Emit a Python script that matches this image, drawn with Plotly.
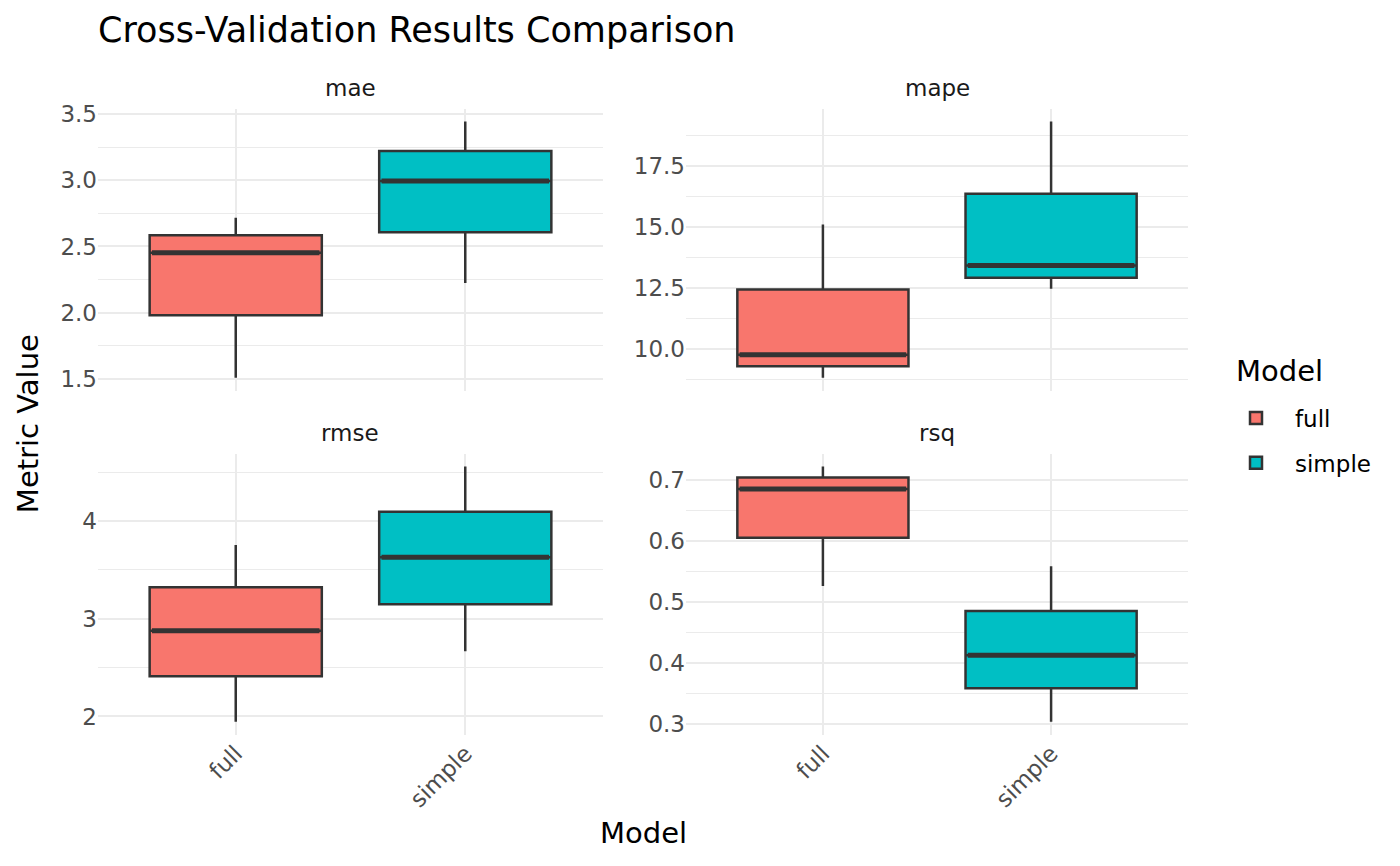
import plotly.graph_objects as go

# ---------------- data ----------------
metrics = ["mae", "mape", "rmse", "rsq"]
models = ["full", "simple"]

full_lower = [1.51, 8.81, 1.946, 0.526]
full_q1 = [1.982, 9.28, 2.411, 0.605]
full_median = [2.452, 9.75, 2.877, 0.685]
full_q3 = [2.585, 12.44, 3.322, 0.704]
full_upper = [2.717, 15.115, 3.754, 0.722]

simple_lower = [2.225, 12.47, 2.668, 0.303]
simple_q1 = [2.607, 12.92, 3.147, 0.358]
simple_median = [2.995, 13.42, 3.629, 0.412]
simple_q3 = [3.22, 16.37, 4.095, 0.485]
simple_upper = [3.442, 19.34, 4.557, 0.5585]

stats = {
    "full": (full_lower, full_q1, full_median, full_q3, full_upper),
    "simple": (simple_lower, simple_q1, simple_median, simple_q3, simple_upper),
}

# ---------------- styling ----------------
W, H = 1400, 866
FONT = "DejaVu Sans"
colors = {"full": "#F8766D", "simple": "#00BFC4"}
EDGE = "#333333"
GRID = "#EBEBEB"
TICK_COL = "#4D4D4D"

major_dtick = [0.5, 2.5, 1.0, 0.1]
tick_fmt = [".1f", ".1f", "d", ".1f"]

# panel pixel boxes (left, right, top, bottom)
px_boxes = [
    (98, 603, 102, 387),
    (686, 1188, 102, 387),
    (98, 603, 451, 735),
    (686, 1188, 451, 735),
]

BOX_W = 0.75

fig = go.Figure()

for i, metric in enumerate(metrics):
    sfx = "" if i == 0 else str(i + 1)
    xa, ya = "x" + sfx, "y" + sfx
    for j, model in enumerate(models):
        lo, q1, med, q3, hi = stats[model]
        pos = j + 1
        fig.add_trace(go.Box(
            x=[pos], q1=[q1[i]], median=[med[i]], q3=[q3[i]],
            lowerfence=[lo[i]], upperfence=[hi[i]],
            width=BOX_W, whiskerwidth=0,
            fillcolor=colors[model],
            line=dict(color=EDGE, width=2.5),
            name=model, legendgroup=model, showlegend=(i == 0),
            boxpoints=False,
            xaxis=xa, yaxis=ya,
        ))
        # thicker median line (ggplot fatten)
        fig.add_trace(go.Scatter(
            x=[pos - BOX_W / 2 + 0.01, pos + BOX_W / 2 - 0.01],
            y=[med[i], med[i]],
            mode="lines", line=dict(color=EDGE, width=5),
            showlegend=False, hoverinfo="skip",
            xaxis=xa, yaxis=ya,
        ))

layout = dict(
    width=W, height=H,
    margin=dict(l=0, r=0, t=0, b=0),
    paper_bgcolor="white", plot_bgcolor="white",
    font=dict(family=FONT, color="black"),
    title=dict(text="Cross-Validation Results Comparison",
               x=98 / W, xanchor="left", y=1 - 30 / H, yanchor="middle",
               font=dict(size=35, family=FONT, color="black")),
    legend=dict(
        font=dict(size=23, family=FONT, color="black"),
        x=1217 / W, xanchor="left", y=1 - 393 / H, yanchor="top",
        bgcolor="rgba(0,0,0,0)", tracegroupgap=12, itemwidth=68,
    ),
    showlegend=True,
)

annotations = []
for i, metric in enumerate(metrics):
    sfx = "" if i == 0 else str(i + 1)
    l, r, t, b = px_boxes[i]
    lo_all = min(full_lower[i], simple_lower[i])
    hi_all = max(full_upper[i], simple_upper[i])
    pad = 0.05 * (hi_all - lo_all)
    bottom_row = i >= 2
    layout["xaxis" + sfx] = dict(
        domain=[l / W, r / W], anchor="y" + sfx,
        range=[0.4, 2.6], tickvals=[1, 2], ticktext=models,
        showticklabels=bottom_row, tickangle=-45,
        tickfont=dict(size=23, family=FONT, color=TICK_COL),
        showgrid=True, gridcolor=GRID, gridwidth=2.2,
        zeroline=False, showline=False, ticks="",
    )
    layout["yaxis" + sfx] = dict(
        domain=[1 - b / H, 1 - t / H], anchor="x" + sfx,
        range=[lo_all - pad, hi_all + pad],
        tick0=0, dtick=major_dtick[i], tickformat=tick_fmt[i],
        tickfont=dict(size=23, family=FONT, color=TICK_COL),
        showgrid=True, gridcolor=GRID, gridwidth=2.2,
        minor=dict(tick0=0, dtick=major_dtick[i] / 2, showgrid=True,
                   gridcolor=GRID, gridwidth=1.2, ticks=""),
        zeroline=False, showline=False, ticks="",
    )
    annotations.append(dict(
        text=metric, xref="paper", yref="paper",
        x=(l + r) / 2 / W, y=1 - (t - 21) / H,
        xanchor="center", yanchor="middle", showarrow=False,
        font=dict(size=23, family=FONT, color="#1A1A1A"),
    ))

annotations.append(dict(
    text="Model", xref="paper", yref="paper",
    x=(98 + 1188) / 2 / W, y=1 - 835 / H,
    xanchor="center", yanchor="middle", showarrow=False,
    font=dict(size=29, family=FONT, color="black"),
))
annotations.append(dict(
    text="Metric Value", xref="paper", yref="paper",
    x=28 / W, y=1 - 421 / H, textangle=-90,
    xanchor="center", yanchor="middle", showarrow=False,
    font=dict(size=29, family=FONT, color="black"),
))
# legend title
annotations.append(dict(
    text="Model", xref="paper", yref="paper",
    x=1234 / W, y=1 - 367 / H,
    xanchor="left", yanchor="middle", showarrow=False,
    font=dict(size=29, family=FONT, color="black"),
))
layout["annotations"] = annotations

fig.update_layout(**layout)
fig.write_html("out.html",
               config={"displayModeBar": False},
               post_script="document.body.style.margin='0';document.body.style.overflow='hidden';")
